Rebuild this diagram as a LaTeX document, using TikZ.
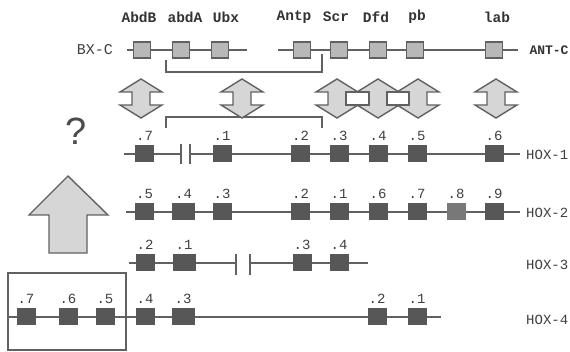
\documentclass[tikz,border=0pt]{standalone}
\usepackage{fontspec}
\setmonofont{Liberation Mono}
\setsansfont{Liberation Sans}
\usepackage{tikz}
\usetikzlibrary{positioning}

\definecolor{linegray}{gray}{0.38}
\definecolor{genegray}{gray}{0.34}
\definecolor{lightgene}{gray}{0.47}
\definecolor{dotgray}{gray}{0.84}
\definecolor{flydot}{gray}{0.72}
\newcommand{\numfont}{\ttfamily\fontsize{14}{14}\selectfont}
\newcommand{\flyfont}{\ttfamily\bfseries\fontsize{14.5}{14.5}\selectfont}
\newcommand{\hoxfont}{\ttfamily\fontsize{14}{14}\selectfont}

\begin{document}
\begin{tikzpicture}[x=1pt,y=-1pt,
  gene/.style={fill=genegray, minimum width=19pt, minimum height=17pt, inner sep=0pt},
  widegene/.style={gene, minimum width=23pt},
  paleg/.style={gene, fill=lightgene},
  flygene/.style={draw=linegray, line width=1.4pt, fill=flydot, minimum width=17pt, minimum height=16pt, inner sep=0pt},
  num/.style={font=\numfont, text=black!75, inner sep=0.5pt},
  fly/.style={font=\flyfont, text=black!80},
  hox/.style={font=\hoxfont, text=black!75, anchor=west, inner sep=0pt},
  chrom/.style={linegray, line width=1.4pt},
  dotarrow/.style={draw=linegray, fill=dotgray, line width=1.4pt, line join=miter}]

  \useasboundingbox[fill=white] (0,0) rectangle (570,352);

  % 果蝇 BX-C / ANT-C
  \coordinate (bxa) at (127,50); \coordinate (bxb) at (247,50);
  \coordinate (anta) at (278,50); \coordinate (antb) at (518,50);
  \draw[chrom] (bxa) -- (bxb);
  \draw[chrom] (anta) -- (antb);
  \foreach \g/\x in {AbdB/142,abdA/181,Ubx/220,Antp/302,Scr/339,Dfd/378,pb/415,lab/494}
    \node[flygene] (\g) at (\x,50) {};
  \foreach \g/\x in {AbdB/139,abdA/185,Ubx/226,Antp/294,Scr/336,Dfd/376,pb/417,lab/497}
    \node[fly] (\g-l) at (\x,17) {\g};
  \node[font=\ttfamily\fontsize{15}{15}\selectfont, text=black!75] (bxc) at (95,50) {BX-C};
  \node[fly, font=\ttfamily\bfseries\fontsize{13}{13}\selectfont] (antc) at (549,50) {ANT-C};

  % 括号
  \draw[chrom, line width=1.3pt] (166,60) -- (166,72) -- (322,72) -- (322,54);
  \draw[chrom, line width=1.3pt] (166,128) -- (166,117) -- (322,117) -- (322,128);

  % 双向箭头
  \foreach \cx in {141,242,337,378,418,496}
    \filldraw[dotarrow] (\cx,79) -- ++(21,13) -- ++(-12,0) -- ++(0,13) -- ++(12,0)
      -- (\cx,118) -- ++(-21,-13) -- ++(12,0) -- ++(0,-13) -- ++(-12,0) -- cycle;
  \foreach \a/\b in {337/378,378/418}
    \filldraw[draw=linegray, fill=white, line width=1.4pt] ({\a+9},92) rectangle ({\b-9},105);

  % 问号与大箭头
  \node[font=\sffamily\fontsize{38}{38}\selectfont, text=black!70] (qm) at (76,131) {?};
  \filldraw[dotarrow] (68,176) -- (108,215) -- (87,215) -- (87,253) -- (49,253)
    -- (49,215) -- (29,215) -- cycle;

  % HOX-1
  \coordinate (h1a) at (124,154); \coordinate (h1b) at (181,154);
  \coordinate (h1c) at (190,154); \coordinate (h1d) at (520,154);
  \draw[chrom] (h1a) -- (h1b);
  \draw[chrom] (h1c) -- (h1d);
  \draw[chrom] (h1b) ++(0,-10) -- ++(0,20);
  \draw[chrom] (h1c) ++(0,-10) -- ++(0,20);
  \foreach \n/\x/\s in {7/144.5/gene,1/222/gene,2/300.5/gene,3/339/gene,4/378/gene,5/417/gene,6/494/gene}{
    \node[\s] (h1g\n) at (\x,154) {};
    \node[num, above=4pt of h1g\n] (h1n\n) {.\n};}
  \node[hox] (hox1) at (526,155) {HOX-1};

  % HOX-2
  \coordinate (h2a) at (126,212); \coordinate (h2b) at (520,212);
  \draw[chrom] (h2a) -- (h2b);
  \foreach \n/\x/\s in {5/144.5/gene,4/183.5/widegene,3/222/gene,2/300.5/gene,1/339/gene,6/378/gene,7/417/gene,8/456/paleg,9/494/gene}{
    \node[\s] (h2g\n) at (\x,212) {};
    \node[num, above=4pt of h2g\n] (h2n\n) {.\n};}
  \node[hox] (hox2) at (526,213) {HOX-2};

  % HOX-3
  \coordinate (h3a) at (129,263); \coordinate (h3b) at (236,263);
  \coordinate (h3c) at (250,263); \coordinate (h3d) at (368,263);
  \draw[chrom] (h3a) -- (h3b);
  \draw[chrom] (h3c) -- (h3d);
  \draw[chrom] (h3b) ++(0,-9) -- ++(0,21);
  \draw[chrom] (h3c) ++(0,-9) -- ++(0,21);
  \foreach \n/\x/\s in {2/145/gene,1/184/widegene,3/302/gene,4/339/gene}{
    \node[\s] (h3g\n) at (\x,263) {};
    \node[num, above=4pt of h3g\n] (h3n\n) {.\n};}
  \node[hox] (hox3) at (526,265) {HOX-3};

  % HOX-4
  \coordinate (h4a) at (7,317); \coordinate (h4b) at (441,317);
  \draw[chrom] (h4a) -- (h4b);
  \foreach \n/\x/\s in {7/26/gene,6/68/gene,5/105/gene,4/145/gene,3/183/widegene,2/377/gene,1/417/gene}{
    \node[\s] (h4g\n) at (\x,317) {};
    \node[num, above=4pt of h4g\n] (h4n\n) {.\n};}
  \node[hox] (hox4) at (526,320) {HOX-4};
  \draw[linegray, line width=1.4pt] (8,273) rectangle (126,350);
\end{tikzpicture}
\end{document}
